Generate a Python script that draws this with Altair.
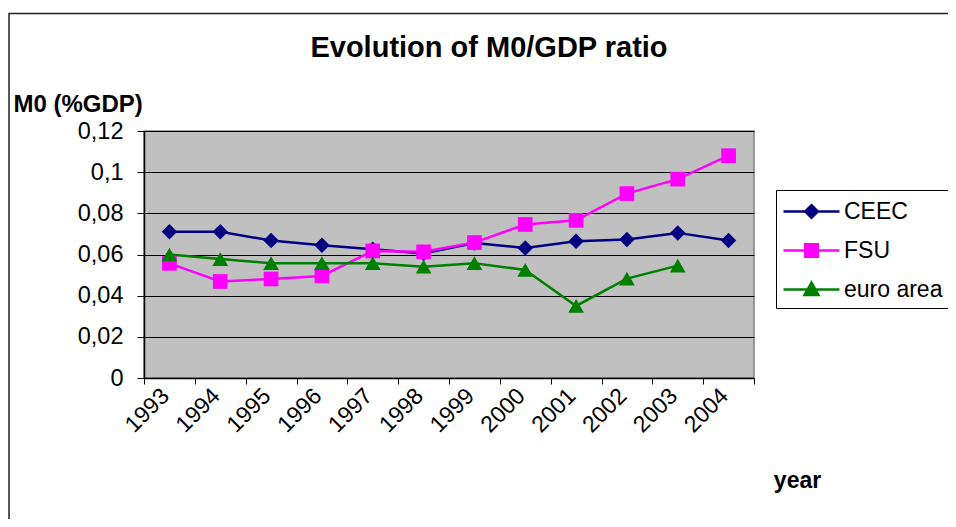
import altair as alt
import pandas as pd

years = [1993, 1994, 1995, 1996, 1997, 1998, 1999, 2000, 2001, 2002, 2003, 2004]
ceec = [0.0710, 0.0710, 0.0668, 0.0645, 0.0626, 0.0605, 0.0656, 0.0632, 0.0664, 0.0673, 0.0705, 0.0668]
fsu = [0.0557, 0.0469, 0.0481, 0.0496, 0.0617, 0.0613, 0.0658, 0.0746, 0.0766, 0.0896, 0.0966, 0.1080]
euro = [0.0600, 0.0578, 0.0558, 0.0558, 0.0558, 0.0541, 0.0558, 0.0525, 0.0350, 0.0483, 0.0546]

series_names = ["CEEC", "FSU", "euro area"]
series_colors = ["#000080", "#FF00FF", "#008000"]
y_ticks = [0, 0.02, 0.04, 0.06, 0.08, 0.1, 0.12]
x_ticks = [y - 0.5 for y in years] + [years[-1] + 0.5]

rows = []
for name, vals in zip(series_names, [ceec, fsu, euro]):
    for yr, v in zip(years, vals):
        rows.append({"year": yr, "value": v, "series": name})
df = pd.DataFrame(rows)

FONT = "Liberation Sans"

x_enc = alt.X(
    "year:Q",
    scale=alt.Scale(domain=[1992.5, 2004.5], nice=False, zero=False),
    axis=alt.Axis(
        values=x_ticks,
        labelExpr="datum.value < 2004 ? toString(datum.value + 0.5) : ''",
        labelAngle=-45, labelAlign="right", labelBaseline="middle",
        labelOffset=21, labelPadding=8, labelFlush=False, labelOverlap=False, labelBound=False,
        labelFont=FONT, labelFontSize=23, labelColor="black",
        tickSize=6, tickColor="black", tickWidth=1,
        domainColor="black", domainWidth=1.5, grid=False,
        title="year", titleFont=FONT, titleFontSize=23, titleFontWeight="bold", titleColor="black",
        titleX=653, titleY=109, titleAlign="center", titleBaseline="alphabetic", titleAngle=0,
    ),
)
y_enc = alt.Y(
    "value:Q",
    scale=alt.Scale(domain=[0, 0.12], nice=False, zero=True),
    axis=alt.Axis(
        values=y_ticks, format=".2~f", labelExpr="replace(datum.label, '.', ',')",
        labelFont=FONT, labelFontSize=23.5, labelColor="black", labelPadding=14,
        tickSize=7, tickColor="black", tickWidth=1,
        domainColor="black", domainWidth=1.5,
        grid=True, gridColor="black", gridWidth=1,
        title="M0 (%GDP)", titleFont=FONT, titleFontSize=24, titleFontWeight="bold", titleColor="black",
        titleAngle=0, titleX=-131, titleY=-20, titleAlign="left", titleBaseline="alphabetic",
    ),
)

base = alt.Chart(df)

marker_shapes = ["diamond", "square", "triangle-up"]
marker_sizes = [240, 215, 250]
line_layers = []
marker_layers = []
for i, (name, col, shp, sz) in enumerate(zip(series_names, series_colors, marker_shapes, marker_sizes)):
    sub = base.transform_filter(alt.datum.series == name)
    line_layers.append(
        sub.mark_line(strokeWidth=2.5, color=col).encode(
            x=x_enc if i == 0 else alt.X("year:Q"),
            y=y_enc if i == 0 else alt.Y("value:Q"),
        )
    )
    marker_layers.append(
        sub.mark_point(shape=shp, filled=True, size=sz, color=col, opacity=1, strokeWidth=0)
        .encode(x="year:Q", y="value:Q")
    )

legend_paths = [
    "M-2,0H2M0,-0.45L0.45,0L0,0.45L-0.45,0Z",
    "M-2,0H2M-0.45,-0.45H0.45V0.45H-0.45Z",
    "M-2,0H2M0,-0.5L0.5,0.4H-0.5Z",
]
sym_color = {"expr": "scale('color', datum.value)"}
legend_layer = base.mark_point(filled=True, opacity=0, size=784).encode(
    x="year:Q", y="value:Q",
    color=alt.Color("series:N", scale=alt.Scale(domain=series_names, range=series_colors),
                    legend=alt.Legend(title=None, symbolStrokeColor=sym_color, symbolFillColor=sym_color,
                                      symbolStrokeWidth=2.5, symbolOpacity=1)),
    shape=alt.Shape("series:N", scale=alt.Scale(domain=series_names, range=legend_paths),
                    legend=alt.Legend(title=None, symbolStrokeColor=sym_color, symbolFillColor=sym_color,
                                      symbolStrokeWidth=2.5, symbolOpacity=1)),
)

frame = alt.Chart(alt.Data(values=[{"a": 1}])).mark_rect(
    filled=False, stroke="#222222", strokeWidth=1.5
).encode(x=alt.value(-135), x2=alt.value(830), y=alt.value(-117.5), y2=alt.value(420))

chart = alt.layer(frame, *line_layers, *marker_layers, legend_layer).properties(
    width=610, height=247,
    background="white",
    title=alt.TitleParams("Evolution of M0/GDP ratio", font=FONT, fontSize=29, fontWeight="bold",
                          color="black", anchor="middle", dx=40, dy=60, offset=10),
    padding={"left": 136, "top": 123, "right": 194, "bottom": 141},
    autosize=alt.AutoSizeParams(type="none"),
).configure_view(
    fill="#C0C0C0", stroke="#808080", strokeWidth=1.5
).configure_legend(
    orient="none", legendX=632, legendY=59,
    strokeColor="black", strokeWidth=1, fillColor="white", padding=6,
    symbolSize=784, symbolOffset=14,
    labelOffset=17, rowPadding=11,
    labelFont=FONT, labelFontSize=23, labelColor="black",
)

chart.save("out.html", embed_options={"renderer": "svg", "actions": False})
